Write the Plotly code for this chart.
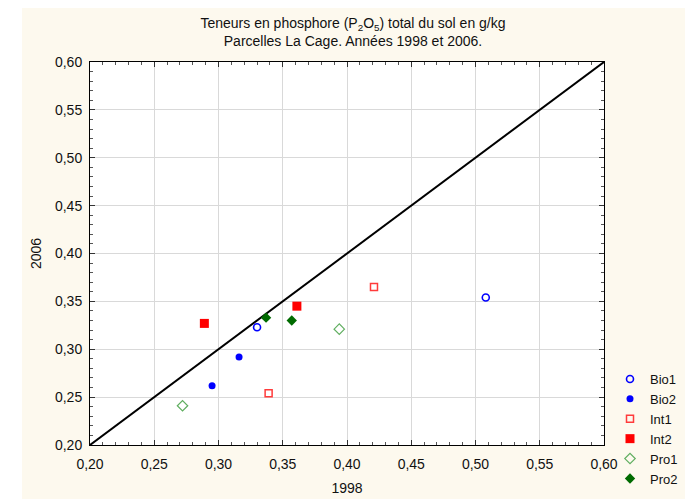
import plotly.graph_objects as go

# Data (1998 vs 2006 phosphorus contents, g/kg)
bio1_x = [0.330, 0.508]
bio1_y = [0.323, 0.354]
bio2_x = [0.295, 0.316]
bio2_y = [0.262, 0.292]
int1_x = [0.339, 0.421]
int1_y = [0.254, 0.365]
int2_x = [0.289, 0.361]
int2_y = [0.327, 0.345]
pro1_x = [0.272, 0.394]
pro1_y = [0.241, 0.321]
pro2_x = [0.337, 0.357]
pro2_y = [0.333, 0.330]
diag = [0.20, 0.60]

FONT = "Liberation Sans, Arial, sans-serif"
OFF = 8  # page body margin
W, H = 696 - OFF, 499 - OFF
# plot area in screenshot coordinates: x 90..604, y 62..445
ML = 90 - OFF
MT = 62 - OFF
PW = 604 - 90
PH = 445 - 62
MR = W - ML - PW
MB = H - MT - PH


def px(x):  # screenshot x -> paper fraction
    return (x - 90) / PW


def py(y):  # screenshot y -> paper fraction
    return (445 - y) / PH


fig = go.Figure()
fig.add_trace(go.Scatter(x=diag, y=diag, mode="lines", line=dict(color="black", width=2),
                         showlegend=False, hoverinfo="skip"))

series = [
    ("Bio1", bio1_x, bio1_y, dict(symbol="circle-open", size=7, color="#0000ff", line=dict(width=1.6, color="#0000ff"))),
    ("Bio2", bio2_x, bio2_y, dict(symbol="circle", size=7, color="#0000ff")),
    ("Int1", int1_x, int1_y, dict(symbol="square-open", size=7, color="#ff3b3b", line=dict(width=1.5, color="#ff3b3b"))),
    ("Int2", int2_x, int2_y, dict(symbol="square", size=9, color="#ff0000")),
    ("Pro1", pro1_x, pro1_y, dict(symbol="diamond-open", size=8, color="#5fae5f", line=dict(width=1.2, color="#5fae5f"))),
    ("Pro2", pro2_x, pro2_y, dict(symbol="diamond", size=8, color="#006b00")),
]
for name, xs, ys, mk in series:
    fig.add_trace(go.Scatter(x=xs, y=ys, mode="markers", name=name, marker=mk))

axis_common = dict(
    range=[0.2, 0.6], dtick=0.05, tick0=0.2, tickformat=".2f",
    showline=True, linecolor="black", linewidth=1, mirror="ticks",
    ticks="inside", ticklen=5, tickcolor="#333333", tickwidth=1,
    showgrid=True, gridcolor="#d9d9d9", gridwidth=1, zeroline=False,
    automargin=False,
    tickfont=dict(family=FONT, size=14, color="#111111"),
    minor=dict(dtick=0.01, ticks="inside", ticklen=3, tickcolor="#555555", showgrid=False),
)

fig.update_layout(
    width=W, height=H,
    margin=dict(l=ML, r=MR, t=MT, b=MB, autoexpand=False),
    paper_bgcolor="#fdf9ee", plot_bgcolor="white",
    separators=", ",
    font=dict(family=FONT, size=14, color="#111111"),
    title=dict(text="Teneurs en phosphore (P<sub>2</sub>O<sub>5</sub>) total du sol en g/kg<br>Parcelles La Cage. Années 1998 et 2006.",
               x=(353 - OFF) / W, xanchor="center", y=1 - 20 / H, yanchor="top",
               font=dict(family=FONT, size=14, color="#111111")),
    xaxis=dict(axis_common, ticklabelstandoff=6,
               title=dict(text="1998", standoff=12, font=dict(family=FONT, size=14, color="#111111"))),
    yaxis=dict(axis_common, ticklabelstandoff=4,
               title=dict(text="2006", standoff=10, font=dict(family=FONT, size=14, color="#111111"))),
    legend=dict(x=px(610), xanchor="left", y=py(364), yanchor="top",
                bgcolor="rgba(0,0,0,0)", font=dict(family=FONT, size=13, color="#111111"),
                itemsizing="trace"),
    showlegend=True,
)

# white frame around the cream panel
white_rects = [
    (px(-50), px(22), py(600), py(-100)),
    (px(-50), px(750), py(5), py(-100)),
    (px(685), px(750), py(600), py(-100)),
]
for x0, x1, y0, y1 in white_rects:
    fig.add_shape(type="rect", xref="paper", yref="paper", x0=x0, x1=x1, y0=y0, y1=y1,
                  fillcolor="white", line=dict(width=0), layer="above")

fig.write_html("out.html")
